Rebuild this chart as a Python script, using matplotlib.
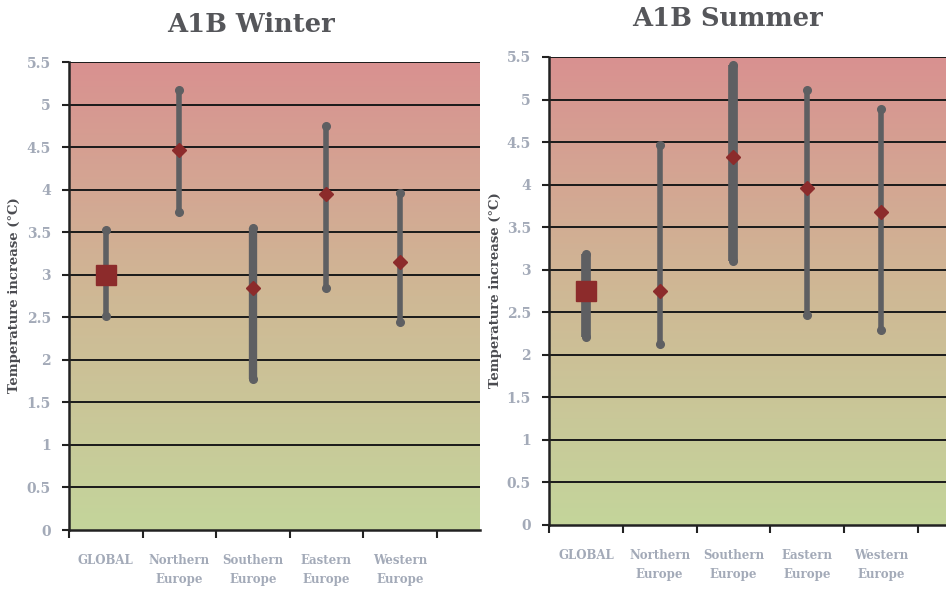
import numpy as np
from matplotlib import pyplot as plt
from matplotlib.colors import LinearSegmentedColormap

regions = ['GLOBAL', 'Northern\nEurope', 'Southern\nEurope', 'Eastern\nEurope', 'Western\nEurope']

winter_high = [3.53, 5.17, 3.55, 4.75, 3.96]
winter_mean = [3.00, 4.46, 2.84, 3.95, 3.15]
winter_low = [2.51, 3.74, 1.77, 2.84, 2.44]

summer_high = [3.18, 4.46, 5.41, 5.11, 4.89]
summer_mean = [2.75, 2.75, 4.32, 3.96, 3.68]
summer_low = [2.21, 2.13, 3.10, 2.47, 2.29]

yticks = [0, 0.5, 1, 1.5, 2, 2.5, 3, 3.5, 4, 4.5, 5, 5.5]
ytick_labels = ['0', '0.5', '1', '1.5', '2', '2.5', '3', '3.5', '4', '4.5', '5', '5.5']

grad = LinearSegmentedColormap.from_list('heat', ['#c4d59b', '#cfb895', '#d99190'])
bar_col = '#5e5f62'
mean_col = '#8c2b2b'
tick_col = '#a3aab8'
title_col = '#55565a'


def draw(ax, high, mean, low, widths, xmax):
    ax.imshow(np.linspace(0, 1, 256).reshape(-1, 1), cmap=grad, origin='lower',
              extent=[-0.5, xmax, 0, 5.5], aspect='auto', zorder=0)
    for y in yticks[1:]:
        ax.axhline(y, color='#1a1a1a', lw=1.4, zorder=1)
    for i in range(len(regions)):
        ax.plot([i, i], [low[i], high[i]], color=bar_col, lw=widths[i],
                solid_capstyle='butt', zorder=2)
        ax.plot([i, i], [low[i], high[i]], 'o', color=bar_col, ms=5.5, zorder=3)
        if i == 0:
            ax.plot(i, mean[i], 's', color=mean_col, ms=15, zorder=4)
        else:
            ax.plot(i, mean[i], 'D', color=mean_col, ms=7, zorder=4)
    ax.set_xlim(-0.5, xmax)
    ax.set_ylim(0, 5.5)
    ax.set_yticks(yticks, labels=ytick_labels)
    ax.set_xticks(range(len(regions)), labels=regions)
    ax.set_xticks(np.arange(-0.5, 5.0, 1), minor=True)
    ax.tick_params(axis='x', which='major', length=0, pad=17, labelsize=8.5, labelcolor=tick_col)
    ax.tick_params(axis='x', which='minor', length=6, width=1.5, color='#222222')
    ax.tick_params(axis='y', length=5, width=1.5, color='#222222', labelsize=10,
                   labelcolor=tick_col, pad=8)
    for lab in ax.get_xticklabels() + ax.get_yticklabels():
        lab.set_fontweight('bold')
        lab.set_family('DejaVu Serif')
    for lab in ax.get_xticklabels():
        lab.set_linespacing(1.6)
    for s in ['top', 'right']:
        ax.spines[s].set_visible(False)
    for s in ['left', 'bottom']:
        ax.spines[s].set_linewidth(1.8)
        ax.spines[s].set_color('#222222')


fig = plt.figure(figsize=(9.46, 5.89), dpi=100)
ax1 = fig.add_axes([69 / 946, 1 - 530 / 589, 411 / 946, 468 / 589])
ax2 = fig.add_axes([549 / 946, 1 - 525 / 589, 397 / 946, 468 / 589])

draw(ax1, winter_high, winter_mean, winter_low, [4, 4, 6, 4, 4], 5.09)
draw(ax2, summer_high, summer_mean, summer_low, [7, 4, 7, 4, 4], 4.88)

fig.text(251 / 946, 1 - 25 / 589, 'A1B Winter', ha='center', va='center', fontsize=18.5,
         fontweight='bold', family='DejaVu Serif', color=title_col)
fig.text(727 / 946, 1 - 18 / 589, 'A1B Summer', ha='center', va='center', fontsize=18.5,
         fontweight='bold', family='DejaVu Serif', color=title_col)
fig.text(15 / 946, 1 - 295 / 589, 'Temperature increase (°C)', rotation=90, ha='center',
         va='center', fontsize=9.5, fontweight='bold', family='DejaVu Serif', color='#4a4b50')
fig.text(495 / 946, 1 - 290 / 589, 'Temperature increase (°C)', rotation=90, ha='center',
         va='center', fontsize=9.5, fontweight='bold', family='DejaVu Serif', color='#4a4b50')

fig.savefig('out.png', dpi=100)
